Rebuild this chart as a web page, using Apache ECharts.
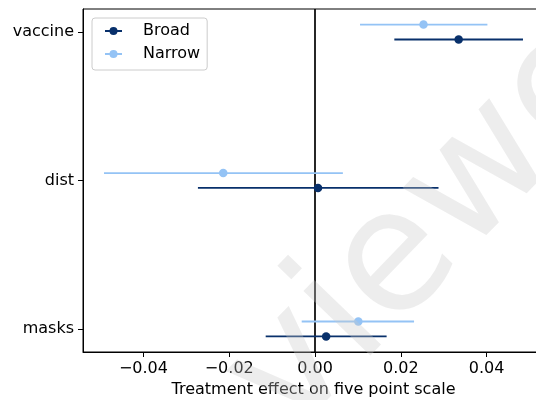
<!DOCTYPE html>
<html>
<head>
<meta charset="utf-8">
<script src="https://cdn.jsdelivr.net/npm/echarts@6/dist/echarts.min.js"></script>
<style>html,body{margin:0;padding:0;background:#fff}#c{width:536px;height:400px}</style>
</head>
<body>
<div id="c"></div>
<script>
const categories = ['masks', 'dist', 'vaccine'];
const broadEst = [0.0026, 0.0007, 0.0335];
const broadLow = [-0.0115, -0.0273, 0.0185];
const broadHigh = [0.0167, 0.0288, 0.0485];
const narrowEst = [0.0101, -0.0214, 0.0253];
const narrowLow = [-0.0031, -0.0492, 0.0105];
const narrowHigh = [0.0231, 0.0065, 0.0402];
const xTicks = [-0.04, -0.02, 0, 0.02, 0.04];
const seriesNames = ['Broad', 'Narrow'];
const xLabel = 'Treatment effect on five point scale';
const watermark = 'viewer';

const FONT = 'DejaVu Sans';
const FS = 16;
const BROAD = '#08306b';
const NARROW = '#94c3f5';
const OFF = 0.05;

function errData(low, high, off) {
  return categories.map((c, i) => [i + off, low[i], high[i]]);
}
function ptData(est, off) {
  return categories.map((c, i) => [est[i], i + off]);
}
function errSeries(name, low, high, off, color) {
  return {
    type: 'custom', name: name, z: 3,
    itemStyle: { color: color },
    data: errData(low, high, off),
    renderItem: function (params, api) {
      const y = api.value(0);
      const p1 = api.coord([api.value(1), y]);
      const p2 = api.coord([api.value(2), y]);
      return { type: 'line', shape: { x1: p1[0], y1: p1[1], x2: p2[0], y2: p2[1] },
        style: { stroke: color, lineWidth: 1.9 } };
    },
    encode: { x: [1, 2], y: 0 },
    silent: true
  };
}
const iconPath = 'path://M0,3.1 L17,3.1 L17,4.9 L0,4.9 Z M4.5,4 A4,4 0 1 1 12.5,4 A4,4 0 1 1 4.5,4 Z';

const chart = echarts.init(document.getElementById('c'), null, { renderer: 'canvas' });
chart.setOption({
  animation: false,
  backgroundColor: '#fff',
  textStyle: { fontFamily: FONT },
  grid: { left: 83, top: 9, bottom: 48, width: 461, show: true, borderColor: '#000', borderWidth: 1,
    containLabel: false, outerBoundsMode: 'none' },
  legend: {
    left: 92, top: 18, orient: 'vertical',
    data: [
      { name: 'Broad', icon: iconPath, itemStyle: { color: BROAD } },
      { name: 'Narrow', icon: iconPath, itemStyle: { color: NARROW } }
    ],
    itemWidth: 17, itemHeight: 8, itemGap: 5,
    padding: [4, 7, 7, 13],
    backgroundColor: 'rgba(255,255,255,0.8)', borderColor: '#cccccc', borderWidth: 1, borderRadius: 3,
    textStyle: { fontFamily: FONT, fontSize: FS, color: '#000', lineHeight: 18, padding: [0, 0, 0, 16] }
  },
  xAxis: {
    type: 'value', min: -0.0541, max: 0.0534,
    axisLine: { show: true, onZero: false, lineStyle: { color: '#000', width: 1 } },
    axisTick: { show: true, customValues: xTicks, length: 5, lineStyle: { color: '#000' } },
    axisLabel: { customValues: xTicks, margin: 9, fontFamily: FONT, fontSize: FS, color: '#000',
      formatter: v => (v < 0 ? '\u2212' : '') + Math.abs(v).toFixed(2) },
    splitLine: { show: false },
    name: xLabel, nameLocation: 'middle', nameGap: 30,
    nameTextStyle: { fontFamily: FONT, fontSize: FS, color: '#000' }
  },
  yAxis: {
    type: 'value', min: -0.155, max: 2.155,
    axisLine: { show: true, onZero: false, lineStyle: { color: '#000', width: 1 } },
    axisTick: { show: true, customValues: [0, 1, 2], length: 5, lineStyle: { color: '#000' } },
    axisLabel: { customValues: [0, 1, 2], margin: 9, fontFamily: FONT, fontSize: FS, color: '#000',
      formatter: v => categories[Math.round(v)] },
    splitLine: { show: false }
  },
  series: [
    { type: 'line', name: 'zero', data: [[0, -0.155], [0, 2.155]], symbol: 'none', z: 2,
      lineStyle: { color: '#000', width: 1.7 }, silent: true },
    errSeries('Broad', broadLow, broadHigh, -OFF, BROAD),
    { type: 'scatter', name: 'Broad', data: ptData(broadEst, -OFF), symbolSize: 8.5, z: 4,
      itemStyle: { color: BROAD, opacity: 1 } },
    errSeries('Narrow', narrowLow, narrowHigh, OFF, NARROW),
    { type: 'scatter', name: 'Narrow', data: ptData(narrowEst, OFF), symbolSize: 8.5, z: 4,
      itemStyle: { color: NARROW, opacity: 1 } }
  ],
  graphic: [{
    type: 'text', x: 257.5, y: 408.7, rotation: 46 * Math.PI / 180, z: 100, silent: true,
    style: { text: watermark, fontFamily: FONT, fontSize: 170, fill: 'rgba(200,200,200,0.33)',
      align: 'left', verticalAlign: 'middle' }
  }]
});
</script>
</body>
</html>
